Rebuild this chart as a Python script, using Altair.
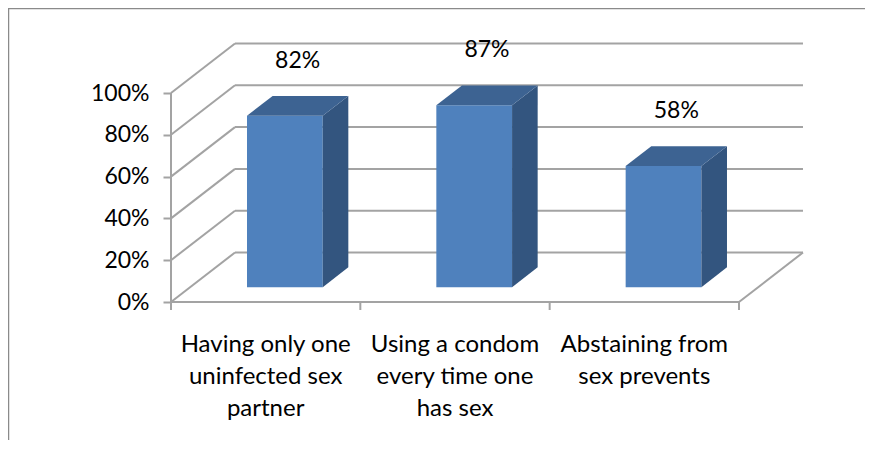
import altair as alt
import pandas as pd

# ---- data ----
categories = ["Having only one\nuninfected sex\npartner",
              "Using a condom\nevery time one\nhas sex",
              "Abstaining from\nsex prevents"]
values = [0.82, 0.87, 0.58]
value_labels = ["82%", "87%", "58%"]
tick_values = [0.0, 0.2, 0.4, 0.6, 0.8, 1.0]

# ---- layout constants (pixels of the view) ----
VIEW_W, VIEW_H = 857, 432
PX_U = 189.33          # pixels per category
PX_V = 209.0           # pixels per 100%
AXIS_X = 163           # front value axis, px from view left
FLOOR_Y = 294          # 0% on front axis, px from view top
DX = 64 / PX_U         # depth offset in category units
DY = 49.5 / PX_V       # depth offset in value units
D0, D1 = 0.3, 0.7      # bar depth range
BW = 0.4               # bar width (category units)

XMIN, XMAX = -AXIS_X / PX_U, (VIEW_W - AXIS_X) / PX_U
YMIN, YMAX = -(VIEW_H - FLOOR_Y) / PX_V, FLOOR_Y / PX_V

FRONT, TOP, SIDE = "#4f81bd", "#3d6392", "#33557f"
GRID = "#a3a3a3"
FONT = "Lato"

xs = alt.Scale(domain=[XMIN, XMAX], nice=False, zero=False)
ys = alt.Scale(domain=[YMIN, YMAX], nice=False, zero=False)
yaxis = alt.Axis(values=tick_values, format=".0%", offset=-AXIS_X, domain=False,
                 grid=False, ticks=True, tickSize=8, tickColor=GRID, tickWidth=2,
                 labelFont=FONT, labelFontSize=23, labelColor="#000000",
                 labelPadding=14, title=None)


def X(f):
    return alt.X(f, type="quantitative", scale=xs, axis=None)


def Y(f):
    return alt.Y(f, type="quantitative", scale=ys, axis=yaxis)


n = len(categories)

# ---- grid / walls / floor segments ----
segs = []
for v in tick_values:
    segs.append(dict(x=DX, y=v + DY, x2=n + DX, y2=v + DY))   # back wall
    segs.append(dict(x=0, y=v, x2=DX, y2=v + DY))             # side wall
segs.append(dict(x=0, y=0, x2=n, y2=0))                       # front floor edge
segs.append(dict(x=n, y=0, x2=n + DX, y2=DY))                 # right floor edge
segs.append(dict(x=0, y=0, x2=0, y2=max(tick_values)))        # front value axis
for i in range(n + 1):
    segs.append(dict(x=i, y=0, x2=i, y2=-8 / PX_V))           # category ticks
grid_df = pd.DataFrame(segs)

frame_df = pd.DataFrame([
    dict(x=XMIN, y=YMAX, x2=XMAX, y2=YMAX),
    dict(x=XMIN, y=YMIN, x2=XMIN, y2=YMAX),
])

# ---- bar faces ----
front_rows, side_rows, top_rows, lab_rows, cat_rows = [], [], [], [], []
for i, (c, v, lab) in enumerate(zip(categories, values, value_labels)):
    left = i + 0.5 - BW / 2
    right = i + 0.5 + BW / 2
    front_rows.append(dict(bar=i, x=left + D0 * DX, x2=right + D0 * DX,
                           y=D0 * DY, y2=v + D0 * DY))
    side_rows.append(dict(bar=i, x=right + D0 * DX, y=D0 * DY, y2=v + D0 * DY))
    side_rows.append(dict(bar=i, x=right + D1 * DX, y=D1 * DY, y2=v + D1 * DY))
    top_rows.append(dict(bar=i, y=v + D0 * DY, x=left + D0 * DX, x2=right + D0 * DX))
    top_rows.append(dict(bar=i, y=v + D1 * DY, x=left + D1 * DX, x2=right + D1 * DX))
    lab_rows.append(dict(x=i + 0.5 + 0.5 * DX, y=v + 0.5 * DY, text=lab))
    cat_rows.append(dict(x=i + 0.5, y=0, text=c))

front_df = pd.DataFrame(front_rows)
side_df = pd.DataFrame(side_rows)
top_df = pd.DataFrame(top_rows)
lab_df = pd.DataFrame(lab_rows)
cat_df = pd.DataFrame(cat_rows)

frame = alt.Chart(frame_df).mark_rule(color="#8a8a8a", strokeWidth=2.5).encode(
    x=X("x"), x2="x2", y=Y("y"), y2="y2")
grid = alt.Chart(grid_df).mark_rule(color=GRID, strokeWidth=2).encode(
    x=X("x"), x2="x2", y=Y("y"), y2="y2")
front = alt.Chart(front_df).mark_rect(color=FRONT).encode(
    x=X("x"), x2="x2", y=Y("y"), y2="y2")
side = alt.Chart(side_df).mark_area(color=SIDE, opacity=1).encode(
    x=X("x"), y=alt.Y("y", type="quantitative", scale=ys, axis=yaxis, stack=None),
    y2="y2", detail="bar:N")
top = alt.Chart(top_df).mark_area(color=TOP, opacity=1, orient="horizontal").encode(
    y=Y("y"), x=alt.X("x", type="quantitative", scale=xs, axis=None, stack=None),
    x2="x2", detail="bar:N")
labels = alt.Chart(lab_df).mark_text(font=FONT, fontSize=23, color="#000000",
                                     baseline="middle", align="center", dy=-45).encode(
    x=X("x"), y=Y("y"), text="text:N")
cats = alt.Chart(cat_df).mark_text(font=FONT, fontSize=24, color="#000000",
                                   baseline="top", align="center", dy=31,
                                   lineBreak="\n", lineHeight=32).encode(
    x=X("x"), y=Y("y"), text="text:N")

chart = alt.layer(frame, grid, front, side, top, labels, cats).properties(
    width=VIEW_W, height=VIEW_H, padding=0, autosize=alt.AutoSizeParams(type="none"),
    background="white"
).configure_view(stroke=None)

chart.save("out.html", embed_options={"renderer": "svg", "actions": False})
